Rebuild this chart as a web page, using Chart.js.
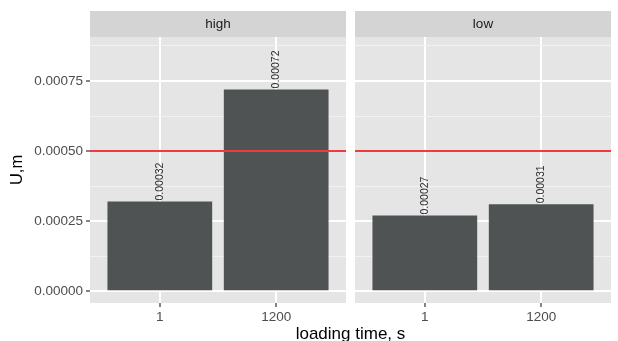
<!DOCTYPE html>
<html>
<head>
<meta charset="utf-8">
<script src="https://cdn.jsdelivr.net/npm/chart.js@4.4.1/dist/chart.umd.min.js"></script>
<style>
  html, body { margin: 0; padding: 0; background: #fff; }
  #wrap { position: relative; width: 618px; height: 341px; overflow: hidden; font-family: "Liberation Sans", Arial, sans-serif; }
  #left { position: absolute; left: 0; top: 0; }
  #right { position: absolute; left: 346px; top: 0; }
  #xTitle { position: absolute; left: 90px; width: 521px; top: 324px; line-height: 20px; font-size: 17px; text-align: center; color: #000; white-space: nowrap; }
</style>
</head>
<body>
<div id="wrap">
  <canvas id="left" width="346" height="341"></canvas>
  <canvas id="right" width="272" height="341"></canvas>
  <div id="xTitle">loading time, s</div>
</div>
<script>
// data
const categories = ['1', '1200'];
const facets = ['high', 'low'];
const highValues = [0.00032, 0.00072];
const lowValues = [0.00027, 0.00031];
const yTickLabels = [0, 0.00025, 0.0005, 0.00075];
const yMinorTicks = [0.000125, 0.000375, 0.000625, 0.000875];
const refLine = 0.0005;

const FONT = '"Liberation Sans", Arial, sans-serif';
const isMajor = v => yTickLabels.some(t => Math.abs(t - v) < 1e-9);

// panel background + facet strip
const panelBg = {
    id: 'panelBg',
    beforeDraw(chart, args, opts) {
        const { ctx, chartArea: a } = chart;
        ctx.save();
        ctx.fillStyle = '#E5E5E5';
        ctx.fillRect(a.left, a.top, a.width, a.height);
        ctx.fillStyle = '#D4D4D4';
        ctx.fillRect(a.left, 11, a.width, a.top - 11);
        ctx.fillStyle = '#1A1A1A';
        ctx.font = '13.5px ' + FONT;
        ctx.textAlign = 'center';
        ctx.textBaseline = 'middle';
        ctx.fillText(opts.text, (a.left + a.right) / 2, (11 + a.top) / 2);
        ctx.restore();
    }
};

// red reference line
const hLine = {
    id: 'hLine',
    afterDatasetsDraw(chart) {
        const { ctx, chartArea: a } = chart;
        const y = chart.scales.y.getPixelForValue(refLine);
        ctx.save();
        ctx.strokeStyle = '#EE3B3B';
        ctx.lineWidth = 2;
        ctx.beginPath();
        ctx.moveTo(a.left, y);
        ctx.lineTo(a.right, y);
        ctx.stroke();
        ctx.restore();
    }
};

// rotated value labels on top of bars
const barLabels = {
    id: 'barLabels',
    afterDatasetsDraw(chart) {
        const { ctx } = chart;
        const vals = chart.data.datasets[0].data;
        chart.getDatasetMeta(0).data.forEach((bar, i) => {
            ctx.save();
            ctx.translate(bar.x, bar.y - 1);
            ctx.rotate(-Math.PI / 2);
            ctx.fillStyle = '#2B2B2B';
            ctx.font = '10.5px ' + FONT;
            ctx.textAlign = 'left';
            ctx.textBaseline = 'middle';
            ctx.fillText(String(vals[i].y), 0, 0);
            ctx.restore();
        });
    }
};

function makePanel(id, facet, values, showY) {
    return new Chart(document.getElementById(id), {
        type: 'bar',
        data: {
            datasets: [{
                label: facet,
                data: values.map((v, i) => ({ x: i + 1, y: v })),
                backgroundColor: '#4F5354',
                borderWidth: 0,
                barPercentage: 0.9,
                categoryPercentage: 1
            }]
        },
        options: {
            responsive: false,
            animation: false,
            layout: { padding: showY ? { top: 37, left: 0, right: 0, bottom: 0 } : { top: 37, left: 9, right: 7, bottom: 0 } },
            plugins: {
                legend: { display: false },
                tooltip: { enabled: false },
                panelBg: { text: facet }
            },
            scales: {
                x: {
                    type: 'linear',
                    min: 0.4,
                    max: 2.6,
                    offset: false,
                    border: { display: false },
                    grid: { offset: false, color: '#FFFFFF', lineWidth: 2, tickColor: '#333333', tickLength: 4, tickWidth: 1.2 },
                    ticks: {
                        color: '#4D4D4D',
                        font: { size: 13.5, family: FONT },
                        padding: 2,
                        maxRotation: 0,
                        autoSkip: false,
                        callback: v => categories[Math.round(v) - 1]
                    },
                    afterBuildTicks: s => { s.ticks = categories.map((c, i) => ({ value: i + 1 })); },
                    afterFit: s => { s.height = 38; }
                },
                y: {
                    min: -0.000042,
                    max: 0.000907,
                    border: { display: false },
                    grid: {
                        color: c => (c.tick && isMajor(c.tick.value)) ? '#FFFFFF' : '#F2F2F2',
                        lineWidth: c => (c.tick && isMajor(c.tick.value)) ? 2 : 1,
                        tickColor: c => (c.tick && isMajor(c.tick.value)) ? '#333333' : 'rgba(0,0,0,0)',
                        tickWidth: 1.2,
                        tickLength: 4,
                        drawTicks: showY
                    },
                    ticks: {
                        display: showY,
                        color: '#4D4D4D',
                        font: { size: 13.5, family: FONT },
                        padding: 3,
                        callback: v => isMajor(v) ? v.toFixed(5) : ''
                    },
                    title: {
                        display: showY,
                        text: 'U,m',
                        color: '#000000',
                        font: { size: 16.5, family: FONT },
                        padding: { top: 8, bottom: 0 }
                    },
                    afterBuildTicks: s => {
                        s.ticks = yTickLabels.concat(yMinorTicks).sort((a, b) => a - b).map(v => ({ value: v }));
                    },
                    afterFit: s => { s.width = showY ? 90 : 0; }
                }
            }
        },
        plugins: [panelBg, hLine, barLabels]
    });
}

makePanel('left', facets[0], highValues, true);
makePanel('right', facets[1], lowValues, false);
</script>
</body>
</html>
